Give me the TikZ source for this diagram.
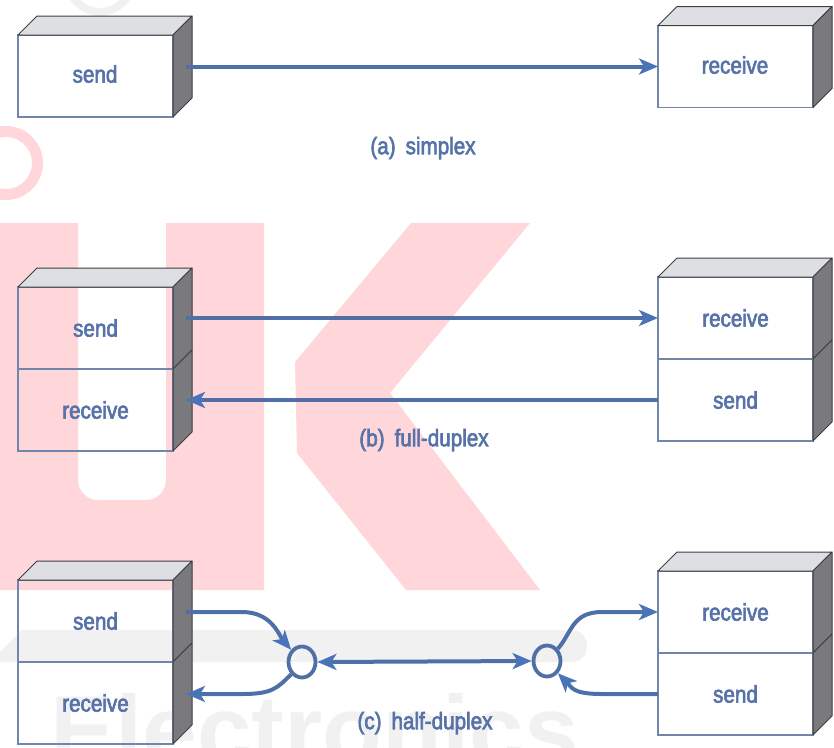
\documentclass[tikz,border=0pt]{standalone}
\usepackage{fontspec}
\usetikzlibrary{arrows.meta,calc,shapes.geometric}
\newfontfamily\lab[FakeStretch=0.86,FakeBold=2.6]{Liberation Sans}
\newfontfamily\markfont{Liberation Sans}

\definecolor{lineblue}{RGB}{79,112,166}
\definecolor{tipblue}{RGB}{74,116,186}
\definecolor{txtblue}{RGB}{86,114,168}
\definecolor{boxedge}{RGB}{112,134,172}
\definecolor{topgray}{RGB}{221,223,227}
\definecolor{sidegray}{RGB}{122,122,126}
\definecolor{darkedge}{RGB}{62,62,66}
\definecolor{markpink}{RGB}{255,214,218}
\definecolor{markgray}{RGB}{241,241,241}

\tikzset{
  cell/.style={draw=boxedge, line width=1.2pt, minimum width=155pt,
    minimum height=82pt, inner sep=0pt, outer sep=0pt,
    font=\lab\fontsize{24}{28}\selectfont, text=txtblue},
  caption/.style={font=\lab\fontsize{24}{28}\selectfont, text=txtblue, inner sep=0pt},
  topface/.style={fill=topgray, draw=darkedge, line width=1pt, line join=round},
  sideface/.style={fill=sidegray, draw=darkedge, line width=1pt, line join=round},
  link/.style={draw=lineblue, line width=4pt,
    -{Stealth[length=19pt,width=16pt,inset=5pt,color=tipblue]}},
  bilink/.style={draw=lineblue, line width=4pt,
    {Stealth[length=19pt,width=16pt,inset=5pt,color=tipblue]}-{Stealth[length=19pt,width=16pt,inset=5pt,color=tipblue]}},
  junction/.style={ellipse, draw=lineblue, line width=3.8pt, minimum width=27pt,
    minimum height=31pt, inner sep=0pt, fill=none},
}

% 3-D faces of a box cell
\newcommand\sidefaceof[1]{\filldraw[sideface] (#1.north east) -- ++(19,-19)
  -- ([shift={(19,-19)}]#1.south east) -- (#1.south east) -- cycle;}
\newcommand\topfaceof[1]{\filldraw[topface] (#1.north west) -- ++(19,-19)
  -- ([shift={(19,-19)}]#1.north east) -- (#1.north east) -- cycle;}

\begin{document}
\begin{tikzpicture}[x=1pt,y=-1pt]
\useasboundingbox (0,0) rectangle (834,747);
\begin{scope}
\clip (0,0) rectangle (834,747);
% background marks
\draw[markpink, line width=11pt] (6,163) circle[radius=31.5];
\draw[markgray, line width=8pt] (100,-20) circle[radius=32];
\fill[markpink] (0,223) -- (78,223) -- (78,400) [rounded corners=20pt] -- (78,500)
  -- (166,500) -- (166,400) [sharp corners] -- (166,223) -- (264,223)
  -- (264,590) -- (0,590) -- cycle;
\fill[markpink] (295,362) -- (411,223) -- (530,223) -- (390,393) -- (540,590)
  -- (406,590) -- (297,453) -- cycle;
\fill[markgray] (0,652) -- (22,630) -- (572,630) to[out=0,in=0,looseness=1.6] (572,662)
  -- (0,662) -- cycle;
\node[anchor=base west, inner sep=0pt, text=markgray,
  font=\markfont\bfseries\fontsize{98}{98}\selectfont] (mark) at (50,764) {Electronics};
\end{scope}

% (a) simplex
\node[cell] (sa) at (95.5,76) {};
\node[cell] (ra) at (735.5,66.5) {};
\topfaceof{sa}\sidefaceof{sa}
\topfaceof{ra}\sidefaceof{ra}
\node[cell, draw=none] (ta) at (95,74) {send};
\node[cell, draw=none] (tra) at (735,65) {receive};
\draw[link] ($(sa.east |- ra.west)+(13,0)$) -- (ra.west);
\node[caption] (capa) at (423,148) {(a)\hspace{10pt}simplex};

% (b) full-duplex
\node[cell] (sb) at (95.5,328) {send};
\node[cell] (rb) at (95.5,410) {receive};
\node[cell] (rb2) at (735.5,318) {receive};
\node[cell] (sb2) at (735.5,400) {send};
\topfaceof{sb}\sidefaceof{sb}\sidefaceof{rb}
\topfaceof{rb2}\sidefaceof{rb2}\sidefaceof{sb2}
\draw[link] ($(sb.east |- rb2.west)+(13,0)$) -- (rb2.west);
\draw[link] (sb2.west) -- ($(rb.east |- sb2.west)+(13,0)$);
\node[caption] (capb) at (424,440) {(b)\hspace{10pt}full-duplex};

% (c) half-duplex
\node[cell] (sc) at (95.5,621) {send};
\node[cell] (rc) at (95.5,703) {receive};
\node[cell] (rc2) at (735.5,612) {receive};
\node[cell] (sc2) at (735.5,694) {send};
\topfaceof{sc}\sidefaceof{sc}\sidefaceof{rc}
\topfaceof{rc2}\sidefaceof{rc2}\sidefaceof{sc2}
\node[junction] (jl) at (302,662) {};
\node[junction] (jr) at (547,661) {};
\coordinate (l1) at ($(sc.east |- rc2.west)+(13,0)$);
\coordinate (l2) at ($(rc.east |- sc2.west)+(13,0)$);
\draw[link] (l1) -- ($(l1 -| jl)+(-60,0)$)
  .. controls ($(l1 -| jl)+(-30,0)$) and ($(jl.north west)+(-12,-14)$) .. (jl.north west);
\draw[link] (jl.south west)
  .. controls ($(jl.south west)+(-14,14)$) and ($(l2 -| jl)+(-30,0)$) .. ($(l2 -| jl)+(-60,0)$)
  -- (l2);
\draw[bilink] (jl.east) -- (jr.west);
\draw[link] (jr.north east)
  .. controls ($(jr.north east)+(14,-16)$) and ($(rc2.west -| jr)+(25,0)$) .. ($(rc2.west -| jr)+(55,0)$)
  -- (rc2.west);
\draw[link] (sc2.west) -- ($(sc2.west -| jr)+(55,0)$)
  .. controls ($(sc2.west -| jr)+(25,0)$) and ($(jr.south east)+(14,14)$) .. (jr.south east);
\node[caption] (capc) at (425,723) {(c)\hspace{10pt}half-duplex};
\end{tikzpicture}
\end{document}
